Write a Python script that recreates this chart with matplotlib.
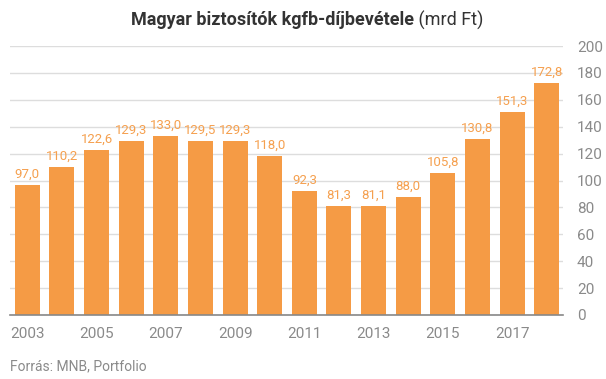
import matplotlib
matplotlib.use("Agg")
import matplotlib.pyplot as plt

years = list(range(2003, 2019))
values = [97.0, 110.2, 122.6, 129.3, 133.0, 129.5, 129.3, 118.0, 92.3, 81.3, 81.1, 88.0, 105.8, 130.8, 151.3, 172.8]
tick_years = [2003, 2005, 2007, 2009, 2011, 2013, 2015, 2017]
y_ticks = list(range(0, 201, 20))

plt.rcParams['font.family'] = ['Roboto', 'DejaVu Sans']

fig = plt.figure(figsize=(6.06, 3.79), dpi=100)
ax = fig.add_axes([10/606, 64/379, 553/606, 269/379])

bar_color = '#F59B45'
x = list(range(len(years)))
ax.bar(x, values, width=0.72, color=bar_color, zorder=3)
for xi, v in zip(x, values):
    ax.text(xi, v + 3, f"{v:.1f}".replace('.', ','), ha='center', va='bottom',
            fontsize=9.5, color='#F5A04F', zorder=4)

ax.set_xlim(-0.5, 15.47)
ax.set_ylim(0, 200)
ax.yaxis.tick_right()
ax.set_yticks(y_ticks)
ax.set_yticklabels([str(t) for t in y_ticks])
ax.set_xticks([years.index(y) for y in tick_years])
ax.set_xticklabels([str(y) for y in tick_years])
ax.tick_params(axis='both', length=0, labelsize=11, labelcolor='#8a8a8a')
ax.tick_params(axis='y', pad=10)
ax.tick_params(axis='x', pad=9)
ax.grid(axis='y', color='#dddddd', linewidth=1, zorder=0)
for s in ['top', 'left', 'right']:
    ax.spines[s].set_visible(False)
ax.spines['bottom'].set_color('#888888')
ax.spines['bottom'].set_linewidth(1.2)
ax.spines['bottom'].set_zorder(5)

t1 = fig.text(0, 0, "Magyar biztosítók kgfb-díjbevétele", fontsize=13, fontweight='bold', color='#333333', va='center')
t2 = fig.text(0, 0, " (mrd Ft)", fontsize=13, color='#333333', va='center')
fig.canvas.draw()
r = fig.canvas.get_renderer()
w1 = t1.get_window_extent(r).width
w2 = t2.get_window_extent(r).width
total = w1 + w2
x0 = (606 * 0.5 + 10 - total / 2) - 6
yc = 1 - 20/379
t1.set_position((x0/606, yc))
t2.set_position(((x0 + w1)/606, yc))

fig.text(10/606, 1 - 366/379, "Forrás: MNB, Portfolio", fontsize=10, color='#8a8a8a', va='center')

fig.savefig("out.png", dpi=100)
